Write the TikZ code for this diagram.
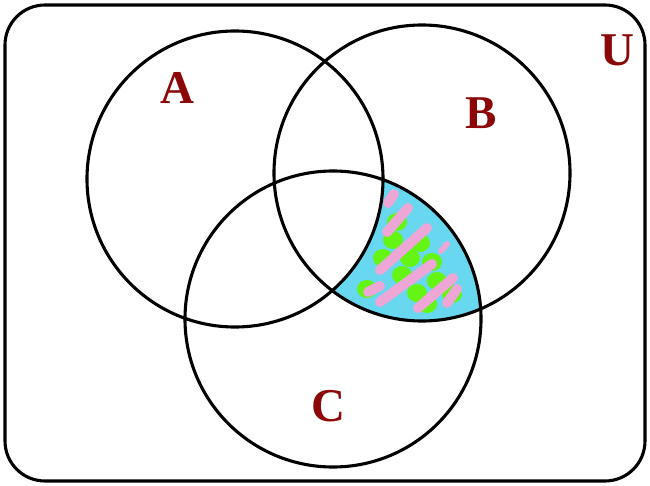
\documentclass[tikz,border=0pt]{standalone}
\usepackage{fontspec}
\setmainfont{Liberation Serif}
\definecolor{lblred}{RGB}{140,8,8}
\definecolor{regcyan}{RGB}{104,216,240}
\definecolor{blobgreen}{RGB}{100,245,20}
\definecolor{strokepink}{RGB}{238,166,214}
\begin{document}
\begin{tikzpicture}[x=1pt,y=-1pt,
  setline/.style={line width=3.1pt,black},
  setlabel/.style={font=\fontsize{47}{47}\selectfont\bfseries,text=lblred,inner sep=0pt},
  pinkstroke/.style={strokepink,line width=10pt,line cap=round},
  greenblob/.style={fill=blobgreen}]
\useasboundingbox (0,0) rectangle (650,486);
\fill[white] (0,0) rectangle (650,486);
% shaded region B cap C minus A
\begin{scope}
  \clip (422,173) circle[radius=148pt];
  \clip (333,319) circle[radius=148pt];
  \fill[regcyan] (180,150) rectangle (500,470);
  \foreach \px/\py in {397/222,420/243,383/258,402/275,417/293,367/289,437/281,427/304,452/294,393/240,410/258,432/262}
    \fill[greenblob] (\px,\py) ellipse[x radius=10pt,y radius=9pt];
  \draw[pinkstroke] (388,203) -- (394,194);
  \draw[pinkstroke] (387,232) -- (408,208);
  \draw[pinkstroke] (380,270) -- (427,228);
  \draw[pinkstroke] (368,292) -- (380,286);
  \draw[pinkstroke] (380,302) -- (432,264);
  \draw[pinkstroke] (418,308) -- (453,278);
  \draw[pinkstroke] (447,303) -- (457,289);
  \draw[pinkstroke,line width=6pt] (441,251) -- (447,244);
  \fill[white] (235,179) circle[radius=148pt];
\end{scope}
% universe and sets
\draw[setline,rounded corners=40pt] (5,5) rectangle (645,481);
\draw[setline] (235,179) circle[radius=148pt];
\draw[setline] (422,173) circle[radius=148pt];
\draw[setline] (333,319) circle[radius=148pt];
% labels
\node[setlabel] (la) at (177,88) {A};
\node[setlabel] (lb) at (481,113) {B};
\node[setlabel] (lc) at (328,406) {C};
\node[setlabel] (lu) at (617,50) {U};
\end{tikzpicture}
\end{document}
